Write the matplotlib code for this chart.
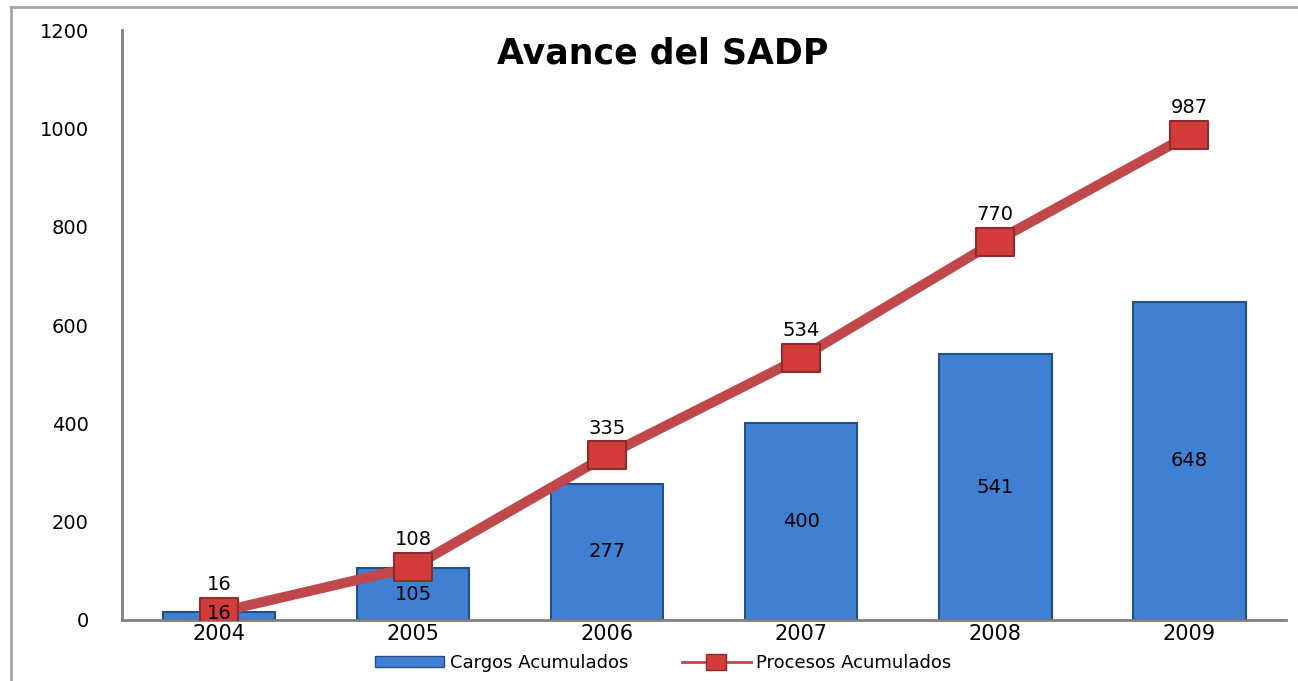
import numpy as np
import matplotlib
matplotlib.use('Agg')
import matplotlib.pyplot as plt
from matplotlib.lines import Line2D
from matplotlib.patches import Patch
from matplotlib.path import Path

anios = ['2004', '2005', '2006', '2007', '2008', '2009']
cargos = [16, 105, 277, 400, 541, 648]
procesos = [16, 108, 335, 534, 770, 987]

plt.rcParams['font.family'] = ['DejaVu Sans']

fig = plt.figure(figsize=(12.98, 6.81), dpi=100)
ax = fig.add_axes([0.094, 0.0896, 0.897, 0.866])

# marco exterior gris
fig.add_artist(Line2D([11 / 1298, 11 / 1298], [0, 1 - 7 / 681], color='#a6a6a6', lw=2))
fig.add_artist(Line2D([11 / 1298, 1], [1 - 7 / 681, 1 - 7 / 681], color='#a6a6a6', lw=2))

# marcador rectangular (mas ancho que alto)
rect = Path([(-1, -0.74), (1, -0.74), (1, 0.74), (-1, 0.74), (-1, -0.74)],
            [Path.MOVETO, Path.LINETO, Path.LINETO, Path.LINETO, Path.CLOSEPOLY])

x = np.arange(len(anios))
ax.bar(x, cargos, width=0.58, color='#3f80d2', edgecolor='#234f86',
       linewidth=1.5, zorder=2)
ax.plot(x, procesos, color='#c0484b', lw=7.2, marker=rect, markersize=28,
        markerfacecolor='#d43b3b', markeredgecolor='#8b2d2d', markeredgewidth=1.5,
        zorder=3)

for xi, v in zip(x, cargos):
    ax.text(xi, v / 2 + (6 if v < 50 else 0), str(v), ha='center', va='center',
            fontsize=14, zorder=4)
for xi, v in zip(x, procesos):
    ax.text(xi, v + 36, str(v), ha='center', va='bottom', fontsize=14, zorder=4)

ax.set_xlim(-0.5, len(anios) - 0.5)
ax.set_ylim(0, 1200)
ax.set_yticks(range(0, 1201, 200))
ax.set_xticks(x)
ax.set_xticklabels(anios, fontsize=15)
ax.tick_params(axis='y', labelsize=14, length=0, pad=24)
ax.tick_params(axis='x', length=0, pad=3)
for s in ['top', 'right']:
    ax.spines[s].set_visible(False)
for s in ['left', 'bottom']:
    ax.spines[s].set_color('#808080')
    ax.spines[s].set_linewidth(2)

ax.text(0.464, 0.96, 'Avance del SADP', transform=ax.transAxes, ha='center', va='center',
        fontsize=25, fontweight='bold')

h_cargos = Patch(facecolor='#3f80d2', edgecolor='#234f86', label='Cargos Acumulados')
h_procesos = Line2D([], [], color='#c0484b', lw=2, marker=rect, markersize=15,
                    markerfacecolor='#d43b3b', markeredgecolor='#8b2d2d',
                    label='Procesos Acumulados')
ax.legend(handles=[h_cargos, h_procesos], loc='upper center',
          bbox_to_anchor=(0.465, -0.03), ncol=2, frameon=False,
          fontsize=13, handlelength=3.8, handleheight=0.5, handletextpad=0.3,
          columnspacing=3)

plt.savefig('out.png', dpi=100)
